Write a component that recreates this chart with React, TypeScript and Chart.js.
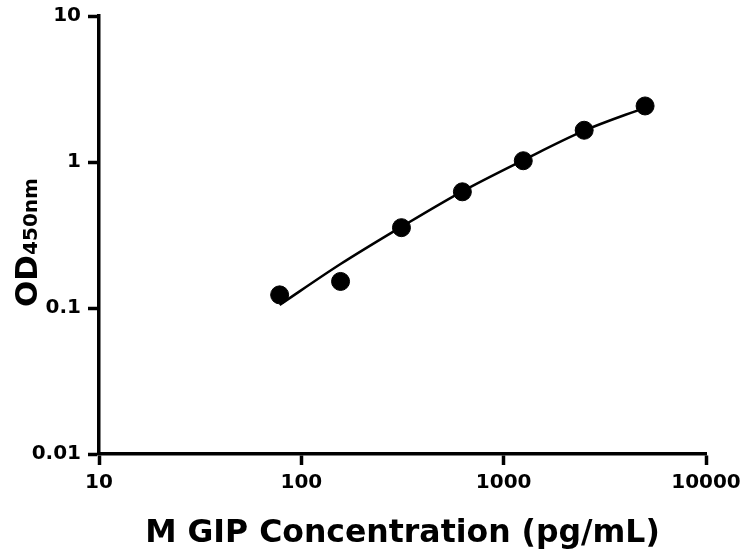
import React, { useEffect, useRef } from "react";
import { Chart, registerables } from "chart.js";

Chart.register(...registerables);

const concentrations = [78.125, 156.25, 312.5, 625, 1250, 2500, 5000];
const odValues = [0.123, 0.152, 0.355, 0.625, 1.02, 1.65, 2.42];
const fitValues = [0.105, 0.2, 0.36, 0.63, 1.03, 1.64, 2.36];
const xTicks = [10, 100, 1000, 10000];
const yTicks = [0.01, 0.1, 1, 10];
const xTitle = "M GIP Concentration (pg/mL)";
const yTitleMain = "OD";
const yTitleSub = "450nm";

const FONT = "'DejaVu Sans', sans-serif";

const yTitlePlugin = {
  id: "yTitlePlugin",
  afterDraw(chart: any) {
    const ctx = chart.ctx;
    ctx.save();
    ctx.translate(37, 307);
    ctx.rotate(-Math.PI / 2);
    ctx.fillStyle = "#000";
    ctx.textAlign = "left";
    ctx.textBaseline = "alphabetic";
    ctx.font = `bold 31px ${FONT}`;
    ctx.fillText(yTitleMain, 0, 0);
    const w = ctx.measureText(yTitleMain).width;
    ctx.font = `bold 20px ${FONT}`;
    ctx.fillText(yTitleSub, w, 0);
    ctx.restore();
  },
};

export default function App() {
  const ref = useRef<HTMLCanvasElement | null>(null);
  useEffect(() => {
    if (!ref.current) return;
    const chart = new Chart(ref.current, {
      type: "scatter",
      data: {
        datasets: [
          {
            type: "line",
            data: concentrations.map((x, i) => ({ x, y: fitValues[i] })),
            borderColor: "#000",
            borderWidth: 2.5,
            pointRadius: 0,
            cubicInterpolationMode: "monotone",
            fill: false,
          } as any,
          {
            type: "scatter",
            data: concentrations.map((x, i) => ({ x, y: odValues[i] })),
            backgroundColor: "#000",
            borderColor: "#000",
            pointRadius: 9,
            pointHoverRadius: 9,
          },
        ],
      },
      options: {
        responsive: false,
        animation: false,
        layout: { padding: { top: 16, right: 37, left: 0, bottom: 0 } },
        plugins: { legend: { display: false }, tooltip: { enabled: false } },
        scales: {
          x: {
            type: "logarithmic",
            min: 10,
            max: 10000,
            afterBuildTicks: (scale: any) => {
              scale.ticks = xTicks.map((v) => ({ value: v }));
            },
            afterFit: (scale: any) => {
              scale.height = 96;
              scale.paddingLeft = 0;
              scale.paddingRight = 0;
            },
            ticks: {
              autoSkip: false,
              maxRotation: 0,
              padding: 6,
              color: "#000",
              font: { family: FONT, size: 20, weight: "bold" },
              callback: (v: any) => String(v),
            },
            grid: {
              drawOnChartArea: false,
              drawTicks: true,
              tickLength: 11,
              tickWidth: 3.5,
              tickColor: "#000",
            },
            border: { display: true, color: "#000", width: 3.5 },
            title: {
              display: true,
              text: xTitle,
              color: "#000",
              font: { family: FONT, size: 31.5, weight: "bold" },
              padding: { top: 4, bottom: -3 },
            },
          },
          y: {
            type: "logarithmic",
            min: 0.01,
            max: 10,
            afterBuildTicks: (scale: any) => {
              scale.ticks = yTicks.map((v) => ({ value: v }));
            },
            afterFit: (scale: any) => {
              scale.width = 99;
              scale.paddingTop = 0;
              scale.paddingBottom = 0;
            },
            ticks: {
              autoSkip: false,
              padding: 7,
              color: "#000",
              font: { family: FONT, size: 20, weight: "bold" },
              callback: (v: any) => String(v),
            },
            grid: {
              drawOnChartArea: false,
              drawTicks: true,
              tickLength: 11,
              tickWidth: 3.5,
              tickColor: "#000",
            },
            border: { display: true, color: "#000", width: 3.5 },
          },
        },
      } as any,
      plugins: [yTitlePlugin],
    });
    return () => chart.destroy();
  }, []);
  return (
    <div style={{ position: "absolute", left: 0, top: 0, width: 743, height: 550, background: "#fff" }}>
      <canvas ref={ref} width={743} height={550} />
    </div>
  );
}
